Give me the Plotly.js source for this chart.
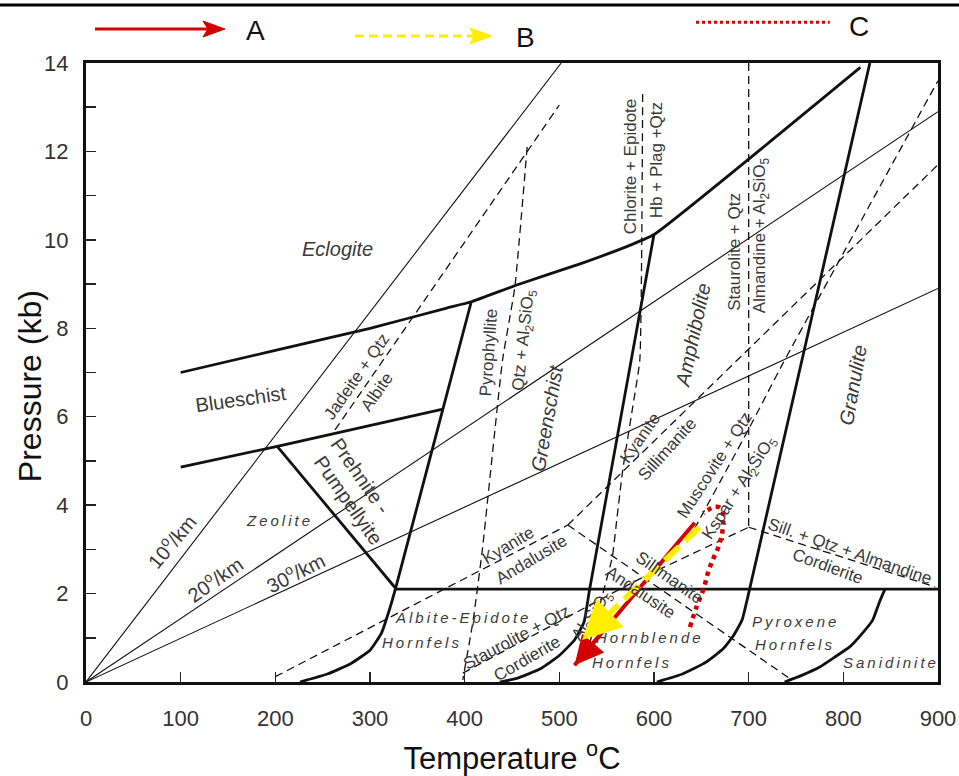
<!DOCTYPE html>
<html><head><meta charset="utf-8">
<script src="https://cdn.plot.ly/plotly-3.0.1.min.js"></script>
<style>body{margin:0;background:#fff}#chart{width:959px;height:776px}</style>
</head><body><div id="chart"></div>
<script>
// ---- geotherms (T in °C, P in kbar)
const geo10_T=[0,502], geo10_P=[0,14];
const geo20_T=[0,900], geo20_P=[0,12.9];
const geo30_T=[0,900], geo30_P=[0,8.9];
// ---- facies boundaries (thick)
const eclogite_T=[100,200,300,380,407,455,525,575,600,818];
const eclogite_P=[7.0,7.5,8.0,8.45,8.6,8.98,9.48,9.88,10.12,13.9];
const blueschist_T=[100,202,377], blueschist_P=[4.86,5.33,6.17];
const zeolite_T=[202,327], zeolite_P=[5.33,2.12];
const prehnite_T=[407,377,327,320,312,300,280,255,226];
const prehnite_P=[8.6,6.17,2.12,1.6,1.1,0.72,0.42,0.18,0];
const greenschist_T=[600,532,526,516,500,480,455,437];
const greenschist_P=[10.12,2.1,1.35,0.95,0.6,0.3,0.08,0];
const amphibolite_T=[828,701,693,684,673,655,630,603];
const amphibolite_P=[14,2.1,1.4,1.05,0.75,0.45,0.18,0];
const hornfels_T=[327,900], hornfels_P=[2.1,2.1];
const sanidinite_T=[844,838,831,818,807,790,775,756,738];
const sanidinite_P=[2.1,1.8,1.4,1.05,0.8,0.55,0.34,0.15,0];
// ---- reactions (dashed)
const jadeite_T=[263,500], jadeite_P=[5.7,13.05];
const pyrophyllite_T=[466,453,440,419,409,398], pyrophyllite_P=[12.1,8.93,7.28,3.05,1.4,0.05];
const kyAnd_T=[200,509], kyAnd_P=[0.12,3.55];
const andSil_T=[509,742], andSil_P=[3.55,0.1];
const kySil_T=[509,900], kySil_P=[3.55,11.7];
const chlorite_T=[588,585,577,567,561,556,546,536,527], chlorite_P=[13.3,7.28,6.15,4.8,3.73,2.83,2.0,1.18,0.5];
const muscovite_T=[636,701,736,800,900], muscovite_P=[3.2,5.76,7.2,9.7,13.6];
const staurolite_T=[700,700], staurolite_P=[14,3.5];
const cordierite_T=[700,897], cordierite_P=[3.5,2.15];
const stCord_T=[398,582,700], stCord_P=[0.2,2.3,3.5];
// ---- P-T paths (start, arrow tip)
const pathA_T=[643,516], pathA_P=[3.6,0.38];
const pathB_T=[648,524], pathB_P=[3.5,0.95];
const pathC_T=[638,645,652,657,662,668,672,673,673,670,664,657,652];
const pathC_P=[1.24,1.70,2.08,2.47,2.76,3.05,3.37,3.66,3.82,3.94,3.96,3.89,3.82];
// ---- ticks
const xTicks=[0,100,200,300,400,500,600,700,800,900];
const yTicks=[0,2,4,6,8,10,12,14];

const traces=[];
function ln(T,P,w,dash,color){traces.push({type:'scatter',mode:'lines',x:T,y:P,line:{color:color||'#111',width:w,dash:dash||'solid',shape:'spline',smoothing:0.4},hoverinfo:'skip',showlegend:false});}
const DASH='8px,5px';
ln(geo10_T,geo10_P,1.1); ln(geo20_T,geo20_P,1.1); ln(geo30_T,geo30_P,1.1);
ln(jadeite_T,jadeite_P,1.3,DASH); ln(pyrophyllite_T,pyrophyllite_P,1.3,DASH);
ln(kyAnd_T,kyAnd_P,1.3,DASH); ln(andSil_T,andSil_P,1.3,DASH); ln(kySil_T,kySil_P,1.3,DASH);
ln(chlorite_T,chlorite_P,1.3,DASH); ln(muscovite_T,muscovite_P,1.3,DASH);
ln(staurolite_T,staurolite_P,1.3,DASH); ln(cordierite_T,cordierite_P,1.3,DASH); ln(stCord_T,stCord_P,1.3,DASH);
ln(eclogite_T,eclogite_P,2.8); ln(blueschist_T,blueschist_P,2.8); ln(zeolite_T,zeolite_P,2.8);
ln(prehnite_T,prehnite_P,2.8); ln(greenschist_T,greenschist_P,2.8); ln(amphibolite_T,amphibolite_P,2.8);
ln(hornfels_T,hornfels_P,2.8); ln(sanidinite_T,sanidinite_P,2.8);
traces.push({type:'scatter',mode:'lines',x:pathA_T,y:pathA_P,line:{color:'#d40000',width:4},hoverinfo:'skip',showlegend:false});
traces.push({type:'scatter',mode:'lines',x:pathB_T,y:pathB_P,line:{color:'#ffee00',width:6,dash:'20px,8px'},hoverinfo:'skip',showlegend:false});
traces.push({type:'scatter',mode:'lines',x:pathC_T,y:pathC_P,line:{color:'#d40000',width:4.5,dash:'dot',shape:'spline'},hoverinfo:'skip',showlegend:false});

const G='#3a3a3a', F='Liberation Sans, Arial, sans-serif';
const S='\u2009';
function sp(t){return t.split('').join(S);}
function lab(t,x,y,ang,size,ital){return {text:ital?'<i>'+t+'</i>':t,x:x,y:y,xref:'x',yref:'y',showarrow:false,textangle:ang,font:{family:F,size:size||17,color:G}};}
const anns=[
 lab('Eclogite',266,9.8,0,20,true),
 lab('Blueschist',164,6.4,-8,20),
 lab(sp('Zeolite'),203,3.66,0,15,true),
 lab('Prehnite -',290,4.66,55,20),
 lab('Pumpellyite',277,4.12,55,20),
 lab('10<sup>o</sup>/km',90,3.19,-50,20),
 lab('20<sup>o</sup>/km',135,2.35,-35,20),
 lab('30<sup>o</sup>/km',221,2.49,-27,20),
 lab('Jadeite + Qtz',286,6.92,-55,17),
 lab('Albite',308,6.56,-55,17),
 lab('Pyrophyllite',425,7.46,-86,17),
 lab('Qtz + Al<sub>2</sub>SiO<sub>5</sub>',463,7.74,-84,17),
 lab('Greenschist',487,5.97,-80,20,true),
 lab('Chlorite + Epidote',575,11.67,-90,17),
 lab('Hb + Plag +Qtz',602,11.8,-90,17),
 lab('Amphibolite',641,7.85,-78,20,true),
 lab('Staurolite + Qtz',685.5,9.73,-90,17),
 lab('Almandine + Al<sub>2</sub>SiO<sub>5</sub>',714,10.1,-90,17),
 lab('Granulite',810,6.72,-80,20,true),
 lab('Kyanite',586,5.52,-55,17),
 lab('Sillimanite',614,5.25,-48,17),
 lab('Muscovite + Qtz',664,4.89,-57,17),
 lab('Kspar + Al<sub>2</sub>SiO<sub>5</sub>',691,4.39,-57,17),
 lab('Sill. + Qtz + Almandine',807,2.96,19,17),
 lab('Cordierite',784,2.62,20,17),
 lab('Kyanite',446,3.08,-31,17),
 lab('Andalusite',471,2.76,-31,17),
 lab(sp('Albite-Epidote'),397,1.47,0,15,true),
 lab(sp('Hornfels'),353,0.9,0,15,true),
 lab('Staurolite + Qtz',455,1.0,-28,17),
 lab('Cordierite',466,0.54,-30,17),
 lab('Al<sub>2</sub>SiO<sub>5</sub>',535,1.5,-55,17),
 lab('Sillimanite',616,2.37,35,17),
 lab('Andalusite',586,2.03,34,17),
 lab(sp('Hornblende'),594,1.0,0,15,true),
 lab(sp('Hornfels'),575,0.45,0,15,true),
 lab(sp('Pyroxene'),748,1.36,0,15,true),
 lab(sp('Hornfels'),747,0.84,0,15,true),
 lab(sp('Sanidinite'),849,0.43,0,15,true),
];
// arrowheads for paths A and B, drawn above the labels (tail taken a short way back along each path)
function head(T,P,f,color,w,style,size){
  return {x:T[1],y:P[1],ax:T[1]+f*(T[0]-T[1]),ay:P[1]+f*(P[0]-P[1]),xref:'x',yref:'y',axref:'x',ayref:'y',
    showarrow:true,text:'',arrowcolor:color,arrowwidth:w,arrowhead:style,arrowsize:size,standoff:0};
}
anns.push(head(pathA_T,pathA_P,0.22,'#d40000',4,2,1.45));
anns.push(head(pathB_T,pathB_P,0.25,'#ffee00',6,2,1.3));
// y-axis title (placed as in the original figure)
anns.push({xref:'paper',yref:'paper',x:-0.0657,y:0.478,xanchor:'center',yanchor:'middle',showarrow:false,textangle:-90,
  text:'Pressure (kb)',font:{family:F,size:32,color:'#111'}});
// legend (top)
const LF={family:'Liberation Sans Narrow, Liberation Sans, Arial',size:28,color:'#111'};
anns.push({xref:'paper',yref:'paper',x:0.1984,y:1.0517,xanchor:'center',yanchor:'middle',text:'A',showarrow:false,font:LF});
anns.push({xref:'paper',yref:'paper',x:0.5153,y:1.0404,xanchor:'center',yanchor:'middle',text:'B',showarrow:false,font:LF});
anns.push({xref:'paper',yref:'paper',x:0.9073,y:1.0582,xanchor:'center',yanchor:'middle',text:'C',showarrow:false,font:LF});

const shapes=[
 {type:'line',xref:'paper',yref:'paper',x0:-0.102,x1:1.03,y0:1.0937,y1:1.0937,line:{color:'#000',width:3}},
 {type:'line',xref:'paper',yref:'paper',x0:0.0106,x1:0.1432,y0:1.0549,y1:1.0549,line:{color:'#d40000',width:3}},
 {type:'path',xref:'paper',yref:'paper',path:'M0.1373,1.0678 L0.1631,1.0549 L0.1373,1.0420 L0.1432,1.0549 Z',fillcolor:'#d40000',line:{color:'#d40000',width:1}},
 {type:'line',xref:'paper',yref:'paper',x0:0.3157,x1:0.4554,y0:1.0436,y1:1.0436,line:{color:'#ffee00',width:3,dash:'9px,5px'}},
 {type:'path',xref:'paper',yref:'paper',path:'M0.4507,1.0565 L0.4765,1.0436 L0.4507,1.0307 L0.4554,1.0436 Z',fillcolor:'#ffee00',line:{color:'#ffee00',width:1}},
 {type:'line',xref:'paper',yref:'paper',x0:0.716,x1:0.873,y0:1.066,y1:1.066,line:{color:'#d40000',width:3,dash:'dot'}},
];

const TF={family:'Liberation Sans Narrow, Liberation Sans, Arial',size:22,color:'#333'};
const layout={
 width:959,height:776,margin:{l:86,r:21,t:63,b:94},
 paper_bgcolor:'#fff',plot_bgcolor:'#fff',showlegend:false,
 xaxis:{range:[0,900],tickvals:xTicks,ticks:'inside',ticklen:10,tickwidth:1.5,tickcolor:'#222',
   showline:true,linewidth:3,linecolor:'#111',mirror:true,showgrid:false,zeroline:false,
   tickfont:TF,ticklabelstandoff:15,
   title:{text:'Temperature <sup>o</sup>C',font:{family:F,size:31,color:'#111'},standoff:22}},
 yaxis:{range:[0,14],tickvals:yTicks,ticks:'inside',ticklen:10,tickwidth:1.5,tickcolor:'#222',
   minor:{dtick:1,ticks:'inside',ticklen:10,tickwidth:1.5,tickcolor:'#222',showgrid:false},
   showline:true,linewidth:3,linecolor:'#111',mirror:true,showgrid:false,zeroline:false,
   tickfont:TF,ticklabelstandoff:10},
 annotations:anns,shapes:shapes
};
Plotly.newPlot('chart',traces,layout,{displayModeBar:false,staticPlot:true});
</script></body></html>
